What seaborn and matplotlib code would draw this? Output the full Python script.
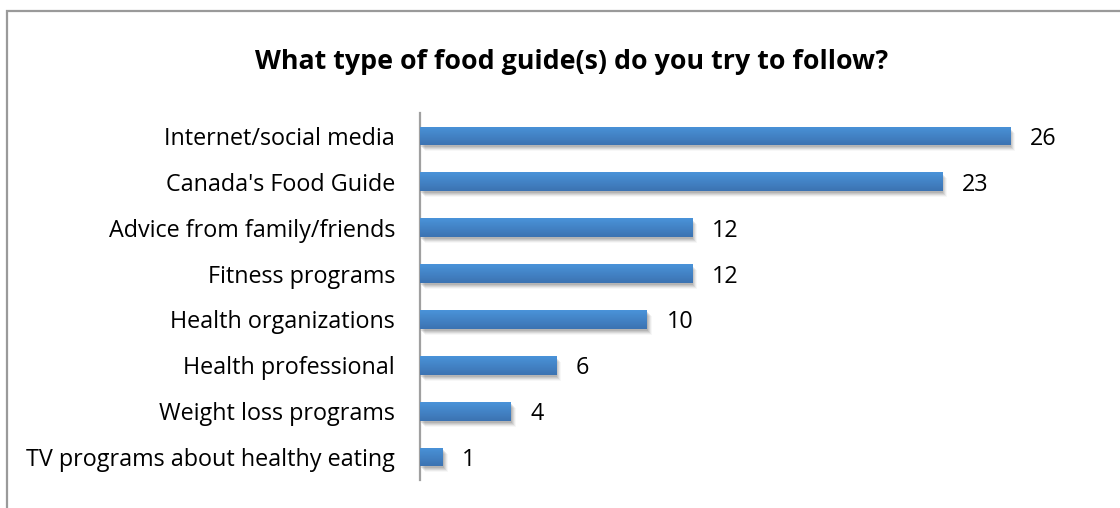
import numpy as np
import pandas as pd
import matplotlib
matplotlib.use("Agg")
import matplotlib.pyplot as plt
import matplotlib.transforms as mtransforms
from matplotlib.patches import Rectangle
from matplotlib.colors import LinearSegmentedColormap
import seaborn as sns

categories = ["Internet/social media", "Canada's Food Guide", "Advice from family/friends",
              "Fitness programs", "Health organizations", "Health professional",
              "Weight loss programs", "TV programs about healthy eating"]
values = [26, 23, 12, 12, 10, 6, 4, 1]
title = "What type of food guide(s) do you try to follow?"

sns.set_theme(style="white")
plt.rcParams['font.family'] = ['Open Sans', 'DejaVu Sans']
plt.rcParams['text.color'] = 'black'

df = pd.DataFrame({"cat": categories, "val": values})

fig = plt.figure(figsize=(11.2, 5.08), dpi=100)
ax = fig.add_axes([0.375, 0.0551, 0.608, 0.7225])
sns.barplot(data=df, x="val", y="cat", orient="h", color="#4a8fd4", width=0.41,
            ax=ax, saturation=1, zorder=3, linewidth=0, edgecolor="none")
ax.set_xlim(0, 30)
ax.set_ylim(len(categories) - 0.5, -0.5)

grad = np.linspace(0, 1, 64).reshape(-1, 1)
cmap = LinearSegmentedColormap.from_list("g", ["#4a93d9", "#3c73b2"])
for p in list(ax.patches):
    x0, y0 = p.get_x(), p.get_y()
    w, h = p.get_width(), p.get_height()
    for dx, dy, a in [(1, -2, 0.10), (2, -3, 0.08), (3, -4, 0.07), (4, -5, 0.05), (5, -6, 0.03)]:
        tr = mtransforms.offset_copy(ax.transData, fig=fig, x=dx, y=dy, units='dots')
        ax.add_patch(Rectangle((x0, y0), w, h, transform=tr, facecolor="black",
                               alpha=a, edgecolor="none", linewidth=0, zorder=2))
    im = ax.imshow(grad, cmap=cmap, aspect='auto', extent=[x0, x0 + w, y0 + h, y0],
                   origin='upper', zorder=4)
    im.set_clip_path(p)
    p.set_zorder(3)
ax.set_xlim(0, 30)
ax.set_ylim(len(categories) - 0.5, -0.5)

for i, v in enumerate(values):
    ax.annotate(str(v), xy=(v, i), xytext=(14, 0), textcoords="offset points",
                va="center_baseline", ha="left", fontsize=16.8, color="black")

ax.set_xlabel("")
ax.set_ylabel("")
ax.set_xticks([])
ax.tick_params(axis="y", length=0, pad=18, labelsize=16.8, labelcolor="black")
for lab in ax.get_yticklabels():
    lab.set_verticalalignment("center_baseline")
for s in ["top", "right", "bottom"]:
    ax.spines[s].set_visible(False)
ax.spines["left"].set_color("#a0a0a0")
ax.spines["left"].set_linewidth(1.6)

fig.text(0.51, 0.878, title, ha="center", va="center", fontsize=19.3,
         fontweight="bold", color="black")

fig.patches.append(Rectangle((7 / 1120, -0.1), 1.2, 1 - 11 / 508 + 0.1,
                             transform=fig.transFigure, fill=False,
                             edgecolor="#9a9a9a", linewidth=1.6))

fig.savefig("out.png", dpi=100)
